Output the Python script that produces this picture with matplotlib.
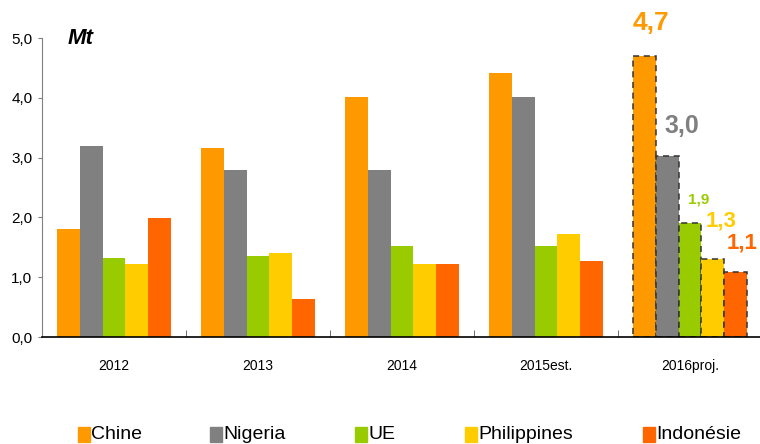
import numpy as np
import matplotlib
matplotlib.use("Agg")
import matplotlib.pyplot as plt
from matplotlib.patches import Rectangle

plt.rcParams['font.family'] = ['Liberation Sans', 'DejaVu Sans']

# data (Mt)
categories = ['2012', '2013', '2014', '2015est.', '2016proj.']
series = ['Chine', 'Nigeria', 'UE', 'Philippines', 'Indonésie']
chine = [1.81, 3.16, 4.01, 4.41, 4.70]
nigeria = [3.19, 2.79, 2.79, 4.01, 3.02]
ue = [1.32, 1.35, 1.53, 1.53, 1.90]
philippines = [1.22, 1.40, 1.22, 1.72, 1.31]
indonesie = [1.99, 0.64, 1.22, 1.27, 1.08]
labels_2016 = ['4,7', '3,0', '1,9', '1,3', '1,1']
yticks = [0, 1, 2, 3, 4, 5]

values = [chine, nigeria, ue, philippines, indonesie]
colors = ['#FF9900', '#808080', '#99CC00', '#FFCC00', '#FF6600']

W, H = 760, 444
fig = plt.figure(figsize=(W / 100, H / 100), dpi=100)
ax = fig.add_axes([42 / W, 1 - 337 / H, 720 / W, 299 / H])

x = np.arange(len(categories))
w = 0.157
for i, (vals, col) in enumerate(zip(values, colors)):
    pos = x + (i - 2) * w
    # historical years: plain bars
    ax.bar(pos[:-1], vals[:-1], width=w, color=col, linewidth=0)
    # projection: dashed outline
    ax.bar(pos[-1], vals[-1], width=w, color=col, edgecolor='#333333',
           linewidth=1.1, linestyle=(0, (4, 3)))

# value labels for the 2016 projection (pixel position, font size)
lab_pos = [(651, 23, 19), (682, 126, 18), (699, 199, 11), (721, 221, 16), (742, 243, 16)]
for txt, (px, py, fs), col in zip(labels_2016, lab_pos, colors):
    fig.text(px / W, 1 - py / H, txt, color=col, fontsize=fs, fontweight='bold',
             ha='center', va='center')

ax.set_xlim(-0.5, 4.5)
ax.set_ylim(0, 5)
ax.set_yticks(yticks)
ax.set_yticklabels([f'{v:.1f}'.replace('.', ',') for v in yticks], fontsize=11)
ax.set_xticks(x)
ax.set_xticklabels(categories, fontsize=10)
ax.tick_params(axis='x', length=0, pad=16)
ax.set_xticks(np.arange(0.5, 4.5, 1), minor=True)
ax.tick_params(axis='x', which='minor', direction='in', length=5, color='#555555')
ax.tick_params(axis='y', direction='out', length=3, color='#808080', pad=4)

ax.spines['top'].set_visible(False)
ax.spines['right'].set_visible(False)
ax.spines['left'].set_color('#808080')
ax.spines['bottom'].set_color('black')
ax.spines['bottom'].set_linewidth(1.2)

fig.text(68 / W, 1 - 38 / H, 'Mt', fontsize=16, fontweight='bold', style='italic',
         va='center', ha='left')

# legend row along the bottom edge
leg_x = [78, 210, 355, 465, 643]
for name, col, lx in zip(series, colors, leg_x):
    fig.patches.append(Rectangle((lx / W, 1 - 442 / H), 12 / W, 15 / H,
                                 transform=fig.transFigure, color=col))
    fig.text((lx + 13) / W, 1 - 434 / H, name, fontsize=14, va='center', ha='left')

fig.savefig('out.png', dpi=100)
